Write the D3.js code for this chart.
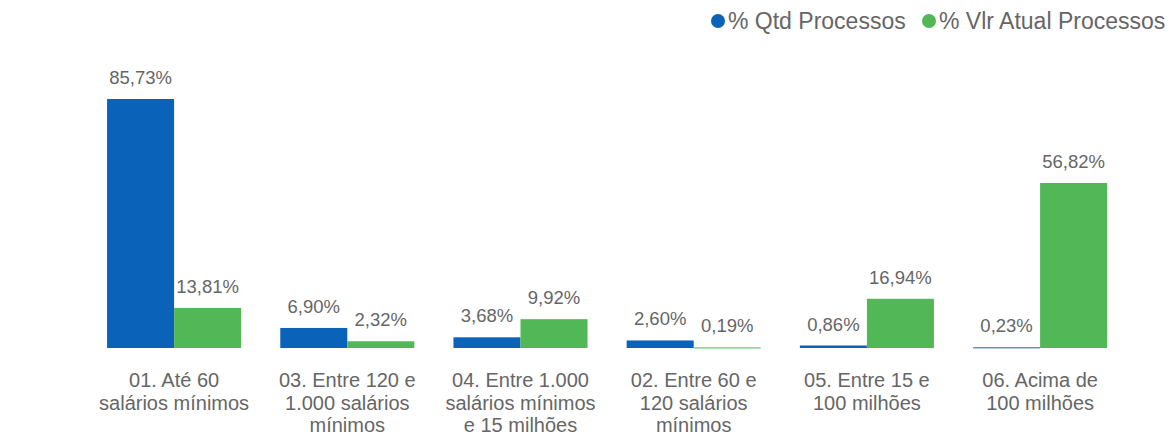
<!DOCTYPE html>
<html>
<head>
<meta charset="utf-8">
<script src="https://cdn.jsdelivr.net/npm/d3@7"></script>
<style>
  body { margin: 0; background: #fff; }
  text { font-family: "Liberation Sans", Arial, sans-serif; }
</style>
</head>
<body>
<div id="chart"></div>
<script>
// Chart data
const categories = [
    ['01. Até 60', 'salários mínimos'],
    ['03. Entre 120 e', '1.000 salários', 'mínimos'],
    ['04. Entre 1.000', 'salários mínimos', 'e 15 milhões'],
    ['02. Entre 60 e', '120 salários', 'mínimos'],
    ['05. Entre 15 e', '100 milhões'],
    ['06. Acima de', '100 milhões']
];
const qtdProcessos = [85.73, 6.90, 3.68, 2.60, 0.86, 0.23];
const vlrProcessos = [13.81, 2.32, 9.92, 0.19, 16.94, 56.82];
const seriesNames = ['% Qtd Processos', '% Vlr Atual Processos'];
const colors = ['#0b63b9', '#52b756'];

function createChart() {
    const width = 1171, height = 437;
    const baseline = 348;

    const svg = d3.select('#chart').append('svg')
        .attr('width', width)
        .attr('height', height);

    const keys = categories.map((c, i) => i);

    // Scales
    const x = d3.scaleBand()
        .domain(keys)
        .range([87.5, 1126.7])
        .paddingInner(0.226)
        .paddingOuter(0.113);

    const xSub = d3.scaleBand()
        .domain([0, 1])
        .range([0, x.bandwidth()]);

    const y = d3.scaleLinear()
        .domain([0, 85.73])
        .range([baseline, 99]);

    const rows = keys.map(i => [qtdProcessos[i], vlrProcessos[i]]);

    const groups = svg.selectAll('.group')
        .data(rows)
        .enter()
        .append('g')
        .attr('class', 'group')
        .attr('transform', (d, i) => `translate(${x(i)},0)`);

    // Bars
    groups.selectAll('rect')
        .data(d => d)
        .enter()
        .append('rect')
        .attr('x', (d, j) => xSub(j))
        .attr('y', d => y(d))
        .attr('width', xSub.bandwidth())
        .attr('height', d => Math.max(y(0) - y(d), 1))
        .attr('fill', (d, j) => colors[j]);

    // Value labels
    groups.selectAll('.value')
        .data(d => d)
        .enter()
        .append('text')
        .attr('class', 'value')
        .attr('x', (d, j) => xSub(j) + xSub.bandwidth() / 2)
        .attr('y', d => y(d) - 15)
        .attr('text-anchor', 'middle')
        .attr('fill', '#666')
        .attr('font-size', '18.5px')
        .text(d => d.toFixed(2).replace('.', ',') + '%');

    // Category labels
    const catLabels = svg.selectAll('.cat')
        .data(categories)
        .enter()
        .append('text')
        .attr('class', 'cat')
        .attr('text-anchor', 'middle')
        .attr('fill', '#666')
        .attr('font-size', '20px');

    catLabels.selectAll('tspan')
        .data((d, i) => d.map(line => ({ line, i })))
        .enter()
        .append('tspan')
        .attr('x', d => x(d.i) + x.bandwidth() / 2)
        .attr('y', (d, k) => 387 + k * 22.5)
        .text(d => d.line);

    // Legend
    const legendX = [718, 929];
    const legend = svg.selectAll('.legend')
        .data(seriesNames)
        .enter()
        .append('g')
        .attr('class', 'legend')
        .attr('transform', (d, i) => `translate(${legendX[i]},21)`);

    legend.append('circle')
        .attr('r', 7)
        .attr('fill', (d, i) => colors[i]);

    legend.append('text')
        .attr('x', 10)
        .attr('y', 8)
        .attr('fill', '#666')
        .attr('font-size', '23px')
        .text(d => d);
}

createChart();
</script>
</body>
</html>
